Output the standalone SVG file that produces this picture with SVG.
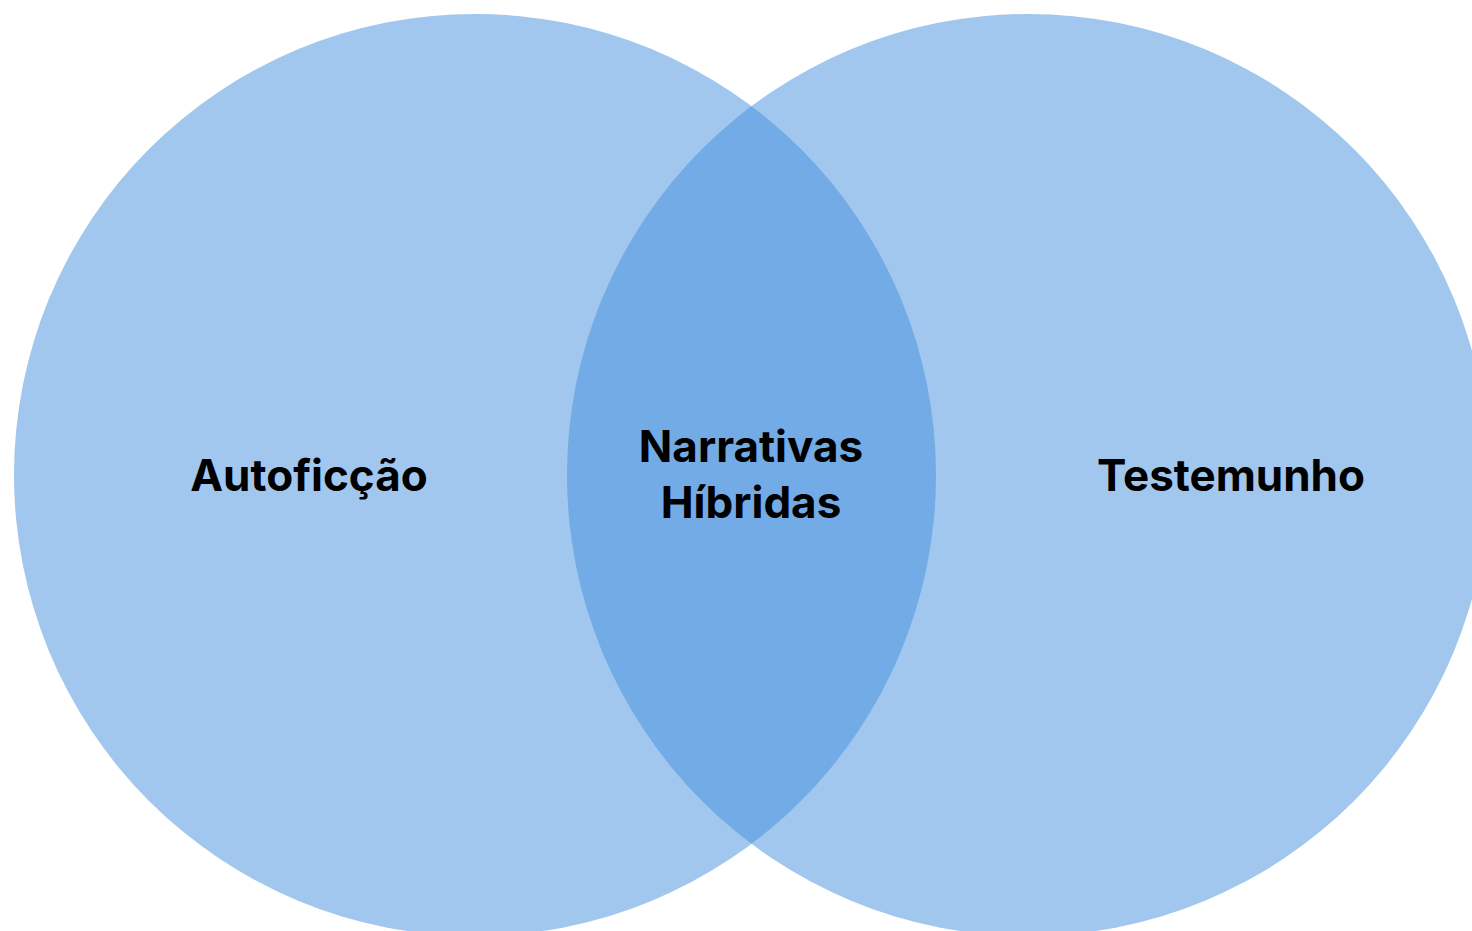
<svg xmlns="http://www.w3.org/2000/svg" width="1472" height="931" viewBox="0 0 1472 931">
<style>
.set{fill:#438FDD;fill-opacity:0.5}
.lbl{font-family:Inter,"Liberation Sans",sans-serif;font-weight:700;font-size:44px;fill:#000;text-anchor:middle}
</style>
<rect width="1472" height="931" fill="#fff"/>
<g id="set-autoficcao">
<circle class="set" cx="475" cy="475" r="461"/>
<text class="lbl" x="309" y="491">Autoficção</text>
</g>
<g id="set-testemunho">
<circle class="set" cx="1028" cy="475" r="461"/>
<text class="lbl" x="1231" y="491">Testemunho</text>
</g>
<g id="intersection">
<text class="lbl" x="751" y="462">Narrativas</text>
<text class="lbl" x="751" y="518">Híbridas</text>
</g>
<g id="connectors"/>
</svg>
